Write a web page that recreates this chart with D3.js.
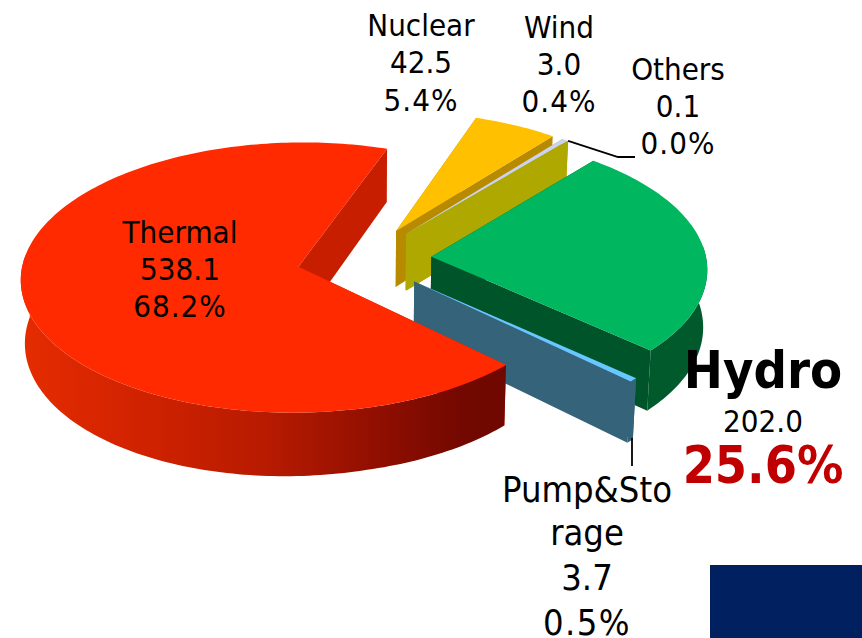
<!DOCTYPE html>
<html><head><meta charset="utf-8">
<script src="https://cdn.jsdelivr.net/npm/d3@7/dist/d3.min.js"></script>
<style>html,body{margin:0;padding:0;background:#fff}svg{display:block}
text{font-family:"DejaVu Sans Condensed","DejaVu Sans",sans-serif;text-anchor:middle;fill:#000}</style>
</head><body><svg id="c" width="862" height="638"></svg>
<script>
const categories = ["Thermal","Nuclear","Wind","Others","Hydro","Pump&Storage"];
const values = [538.1,42.5,3.0,0.1,202.0,3.7];
const valueLabels = ["538.1","42.5","3.0","0.1","202.0","3.7"];
const shares = ["68.2%","5.4%","0.4%","0.0%","25.6%","0.5%"];
const topColors = ["#FF2A00","#FFC000","#C9D2F0","#AEA800","#00B65E","#66C8FF"];
const wallColors = ["#C81E00","#B88A00","#AEA800","#AEA800","#00542A","#35637A"];
const arcColors = ["url(#thermalWall)","#B88A00","#AEA800","#AEA800","#005A2C","#35637A"];

// projection of a tilted, exploded 3-D pie
const CX=364.2, CY=259, RX=275, RY=133, K=0.08, DEPTH=57, SHRINK=0.012, EXPLODE=0.245, SKEW=0.08;
const START=133.7*Math.PI/180;
function project(u,w,h){
  const p=1/(1+K*w);
  const d=DEPTH*p*(1+SKEW*Math.max(0,-u));
  return [CX+RX*u*p*(1-SHRINK*h), CY-RY*w*p+d*h];
}
const svg=d3.select("#c");
const defs=svg.append("defs");
const grad=defs.append("linearGradient").attr("id","thermalWall").attr("gradientUnits","userSpaceOnUse")
  .attr("x1",22).attr("x2",505).attr("y1",0).attr("y2",0);
[[0,"#E52C00"],[0.25,"#D02200"],[0.5,"#B81B00"],[0.75,"#8E0E00"],[0.92,"#720800"],[1,"#700800"]]
  .forEach(s=>grad.append("stop").attr("offset",s[0]).attr("stop-color",s[1]));

const pie=d3.pie().value((d,i)=>values[i]).sort(null).startAngle(START).endAngle(START+2*Math.PI);
const arcs=pie(categories);
const line=d3.line();
const slices=arcs.map((a,i)=>{
  const mid=(a.startAngle+a.endAngle)/2;
  const ox=EXPLODE*Math.sin(mid), oz=EXPLODE*Math.cos(mid);
  const n=Math.max(2,Math.ceil((a.endAngle-a.startAngle)/0.02));
  const ts=d3.range(n+1).map(j=>a.startAngle+(a.endAngle-a.startAngle)*j/n);
  const pt=t=>[ox+Math.sin(t),oz+Math.cos(t)];
  return {i,a,mid,apex:[ox,oz],rim:ts.map(pt),
          nearRim:ts.filter(t=>Math.cos(t)<0.1).map(pt)};
});
// painter's order: far slices first
const order=[1,2,3,4,5,0];
const P=(q,h)=>project(q[0],q[1],h);
function wall(points){
  return line(points.map(q=>P(q,0)).concat(points.slice().reverse().map(q=>P(q,1))))+"Z";
}
order.forEach(k=>{
  const s=slices[k];
  const g=svg.append("g").attr("class","slice");
  g.append("path").attr("d",wall([s.apex,s.rim[0]])).attr("fill",wallColors[k]);
  g.append("path").attr("d",wall([s.apex,s.rim[s.rim.length-1]])).attr("fill",wallColors[k]);
  if(s.nearRim.length>1) g.append("path").attr("d",wall(s.nearRim)).attr("fill",arcColors[k]);
  g.append("path").attr("d",line([s.apex].concat(s.rim).map(q=>P(q,0)))+"Z").attr("fill",topColors[k]);
});

// navy corner block
svg.append("rect").attr("x",710).attr("y",565).attr("width",152).attr("height",73).attr("fill","#002060");

// leader lines
const othersTip=P(slices[3].rim[1],0);
svg.append("path").attr("d",line([othersTip,[618,157],[635,157]])).attr("fill","none").attr("stroke","#000").attr("stroke-width",1.8);
svg.append("path").attr("d",line([[632,438],[632,466]])).attr("fill","none").attr("stroke","#000").attr("stroke-width",1.8);

function label(x,lines){
  lines.forEach(l=>{
    svg.append("text").attr("x",x).attr("y",l.y).attr("font-size",l.size)
      .attr("font-weight",l.bold?"bold":"normal")
      .style("letter-spacing",l.ls?l.ls+"px":null)
      .style("fill",l.fill||"#000").text(l.t);
  });
}
const S=31;
label(180,[{t:categories[0],y:243,size:S},{t:valueLabels[0],y:280,size:S},{t:shares[0],y:317,size:S,ls:1}]);
label(421,[{t:categories[1],y:36,size:S},{t:valueLabels[1],y:73,size:S},{t:shares[1],y:111,size:S,ls:1}]);
label(559,[{t:categories[2],y:38,size:S},{t:valueLabels[2],y:75,size:S},{t:shares[2],y:112,size:S,ls:1}]);
label(678,[{t:categories[3],y:80,size:S},{t:valueLabels[3],y:117,size:S},{t:shares[3],y:154,size:S,ls:1}]);
label(763,[{t:categories[4],y:388,size:52,bold:true},{t:valueLabels[4],y:432,size:31},{t:shares[4],y:483,size:51.5,bold:true,fill:"#C00000"}]);
label(587,[{t:"Pump&Sto",y:502,size:36},{t:"rage",y:545,size:36},{t:valueLabels[5],y:590,size:36},{t:shares[5],y:635,size:36,ls:1.4}]);
</script></body></html>
